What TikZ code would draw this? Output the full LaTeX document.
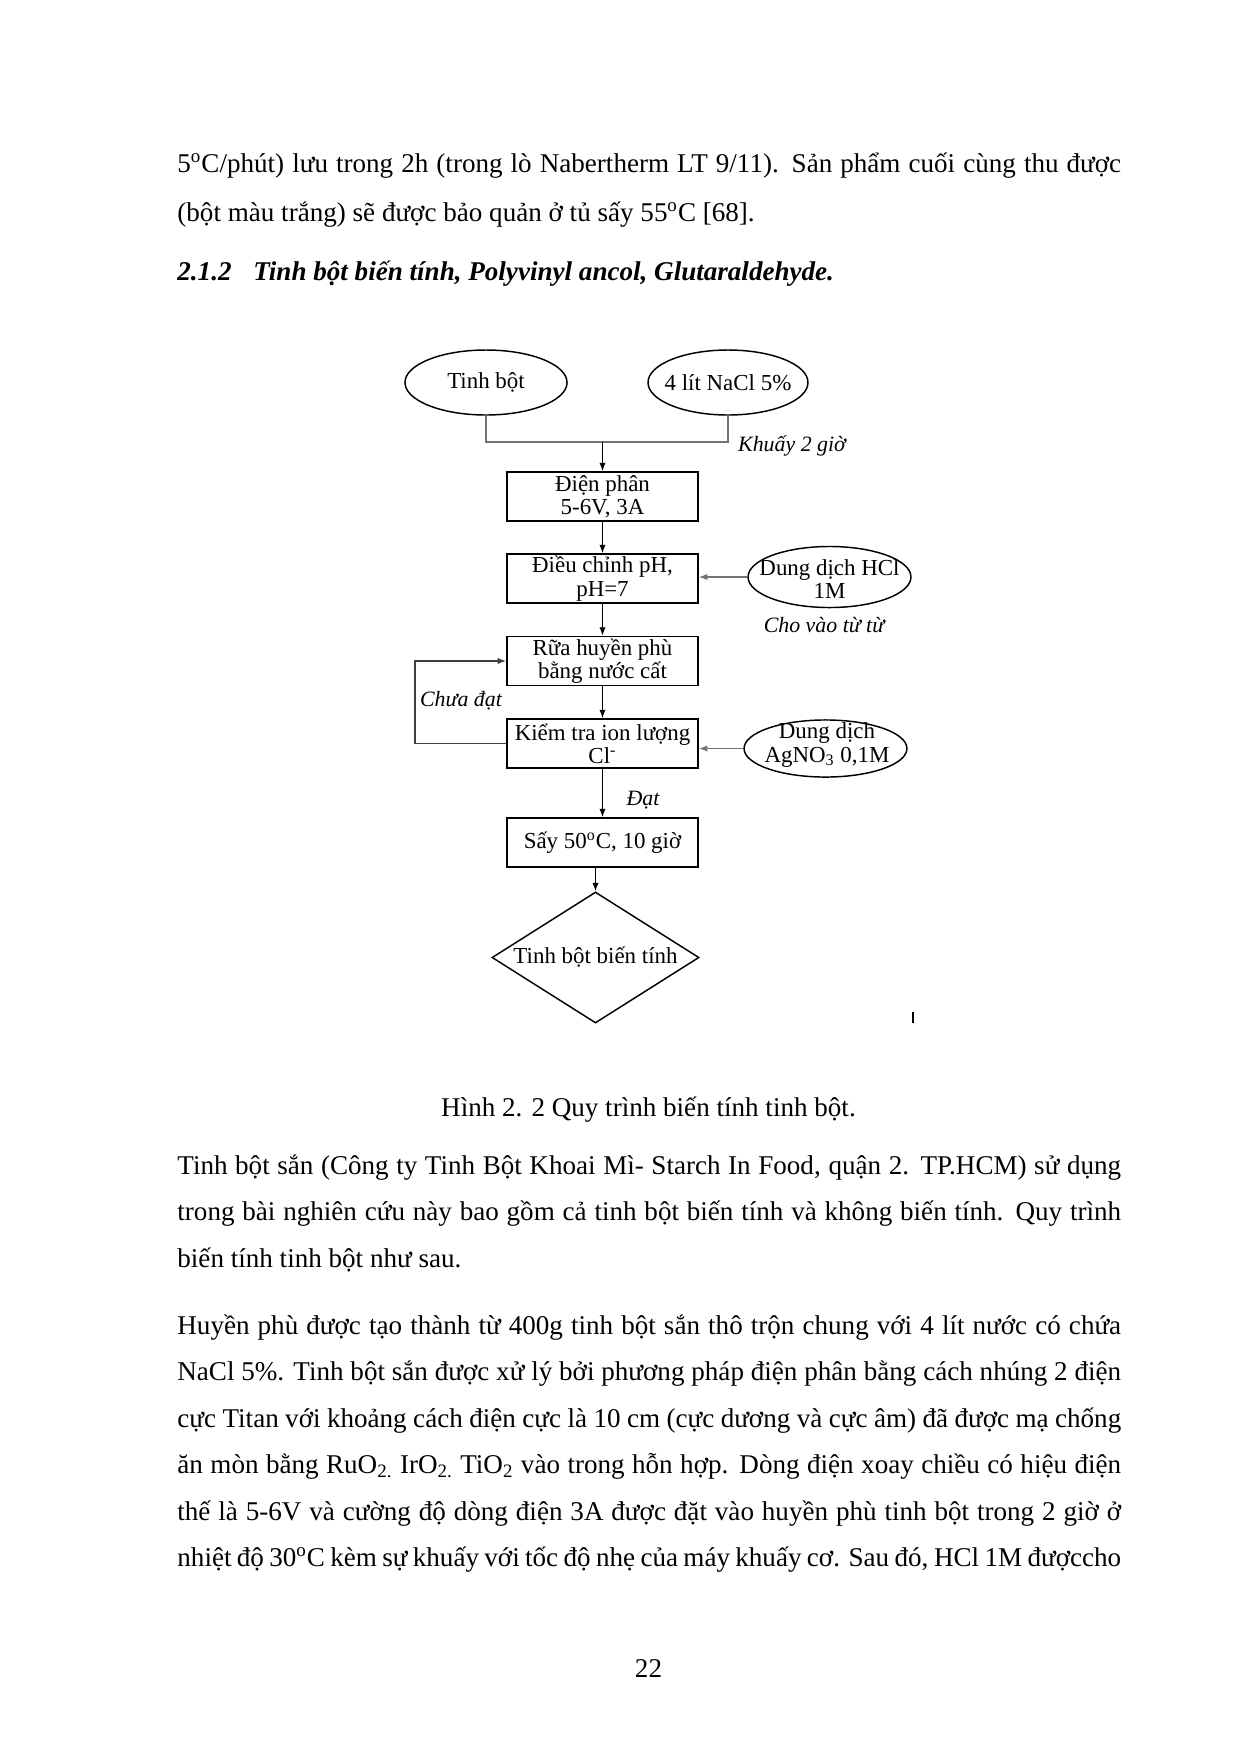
\documentclass[tikz,border=0pt]{standalone}
\usepackage{fontspec}
\setmainfont{Liberation Serif}
\usetikzlibrary{arrows.meta,shapes.geometric}
\begin{document}
\begin{tikzpicture}[x=0.48pt,y=-0.48pt,
  bodyline/.style={anchor=base west,inner sep=0pt,font=\fontsize{13}{15}\selectfont},
  headline/.style={anchor=base west,inner sep=0pt,font=\fontsize{13}{15}\selectfont\bfseries\itshape},
  centerline/.style={anchor=base,inner sep=0pt,font=\fontsize{13}{15}\selectfont},
  procbox/.style={draw,line width=0.9pt,minimum width=91.7pt,minimum height=23.5pt,inner sep=0pt,align=center,font=\fontsize{11}{11.2}\selectfont},
  ovalshape/.style={draw,ellipse,line width=0.7pt,inner sep=0pt},
  ovaltext/.style={align=center,inner sep=0pt,font=\fontsize{11}{11.2}\selectfont},
  endshape/.style={draw,diamond,line width=0.7pt,inner sep=0pt,minimum width=99.4pt,minimum height=62.9pt},
  note/.style={inner sep=0pt,font=\fontsize{10.5}{12}\selectfont\itshape},
  flow/.style={-{Latex[length=4pt,width=3pt]},line width=0.55pt},
  feed/.style={flow,draw=black!55},
  loopline/.style={flow,draw=black!75},
  joinline/.style={line width=0.55pt,draw=black!55}
]
\useasboundingbox (0,0) rectangle (1240,1754);

% ---- text above
\node[bodyline] (t1) at (177,172) {\makebox[453pt][s]{5\textsuperscript{o}C/phút) lưu trong 2h (trong lò Nabertherm LT 9/11). Sản phẩm cuối cùng thu được}};
\node[bodyline] (t2) at (177,221) {(bột màu trắng) sẽ được bảo quản ở tủ sấy 55\textsuperscript{o}C [68].};
\node[headline] (h1) at (177,280) {2.1.2};
\node[headline] (h2) at (253,280) {Tinh bột biến tính, Polyvinyl ancol, Glutaraldehyde.};

% ---- diagram
\node[ovalshape,minimum width=77.8pt,minimum height=31.2pt] (e1) at (486,382.5) {};
\node[ovaltext] at (e1) {Tinh bột};
\node[ovalshape,minimum width=76.8pt,minimum height=31.2pt] (e2) at (728,382.5) {};
\node[ovaltext] at (e2) {4 lít NaCl 5\%};

\node[procbox] (b1) at (602.5,496.5) {Điện phân\\5-6V, 3A};
\node[procbox] (b2) at (602.5,578.5) {Điều chỉnh pH,\\pH=7};
\node[procbox] (b3) at (602.5,661) {Rữa huyền phù\\bằng nước cất};
\node[procbox] (b4) at (602.5,743.5) {Kiểm tra ion lượng\\Cl\textsuperscript{-}};
\node[procbox] (b5) at (602.5,842.5) {Sấy 50\textsuperscript{o}C, 10 giờ};

\node[ovalshape,minimum width=78.2pt,minimum height=29.3pt] (e3) at (829.5,577) {};
\node[ovaltext] at (829.5,579) {Dung dịch HCl\\1M};
\node[ovalshape,minimum width=78.2pt,minimum height=27.4pt] (e4) at (825.5,748.5) {};
\node[ovaltext] at (827,745) {Dung dịch\\AgNO\textsubscript{3} 0,1M};

\node[endshape] (d) at (595.5,957.5) {};
\node[ovaltext] at (d) {Tinh bột biến tính};

% labels
\node[note] (k1) at (792,446) {Khuấy 2 giờ};
\node[note] (k2) at (824,625) {Cho vào từ từ};
\node[note] (k3) at (461,701) {Chưa đạt};
\node[note] (k4) at (643,800) {Đạt};

% connectors
\coordinate (j) at (602.5,442);
\draw[joinline] (e1.south) |- (j);
\draw[joinline] (e2.south) |- (j);
\draw[flow] (j) -- (b1.north);
\draw[flow] (b1) -- (b2);
\draw[flow] (b2) -- (b3);
\draw[flow] (b3) -- (b4);
\draw[flow] (b4) -- (b5);
\draw[flow] (b5.south -| d.north) -- (d.north);
\draw[feed] (e3.west) -- (e3.west -| b2.east);
\draw[feed] (e4.west) -- (e4.west -| b4.east);
\coordinate (lp1) at (415,743.5);
\coordinate (lp2) at (415,661);
\draw[loopline] (b4.west) -- (lp1) -- (lp2) -- (b3.west);

% stray mark
\coordinate (s1) at (913,1012);
\coordinate (s2) at (913,1023);
\draw[line width=0.7pt] (s1) -- (s2);

% ---- text below
\node[centerline] (cap) at (648.5,1116) {Hình 2. 2 Quy trình biến tính tinh bột.};

\node[bodyline] (p1) at (177,1174) {\makebox[453pt][s]{Tinh bột sắn (Công ty Tinh Bột Khoai Mì- Starch In Food, quận 2. TP.HCM) sử dụng}};
\node[bodyline] (p2) at (177,1220.5) {\makebox[453pt][s]{trong bài nghiên cứu này bao gồm cả tinh bột biến tính và không biến tính. Quy trình}};
\node[bodyline] (p3) at (177,1267) {biến tính tinh bột như sau.};

\node[bodyline] (q1) at (177,1334) {\makebox[453pt][s]{Huyền phù được tạo thành từ 400g tinh bột sắn thô trộn chung với 4 lít nước có chứa}};
\node[bodyline] (q2) at (177,1380.5) {\makebox[453pt][s]{NaCl 5\%. Tinh bột sắn được xử lý bởi phương pháp điện phân bằng cách nhúng 2 điện}};
\node[bodyline] (q3) at (177,1427) {\makebox[453pt][s]{cực Titan với khoảng cách điện cực là 10 cm (cực dương và cực âm) đã được mạ chống}};
\node[bodyline] (q4) at (177,1473.5) {\makebox[453pt][s]{ăn mòn bằng RuO\textsubscript{2.} IrO\textsubscript{2.} TiO\textsubscript{2} vào trong hỗn hợp. Dòng điện xoay chiều có hiệu điện}};
\node[bodyline] (q5) at (177,1520) {\makebox[453pt][s]{thế là 5-6V và cường độ dòng điện 3A được đặt vào huyền phù tinh bột trong 2 giờ ở}};
\node[bodyline] (q6) at (177,1566) {\makebox[453pt][s]{nhiệt độ 30\textsuperscript{o}C kèm sự khuấy với tốc độ nhẹ của máy khuấy cơ. Sau đó, HCl 1M đượccho}};

\node[centerline] (pg) at (648.5,1677) {22};
\end{tikzpicture}
\end{document}
